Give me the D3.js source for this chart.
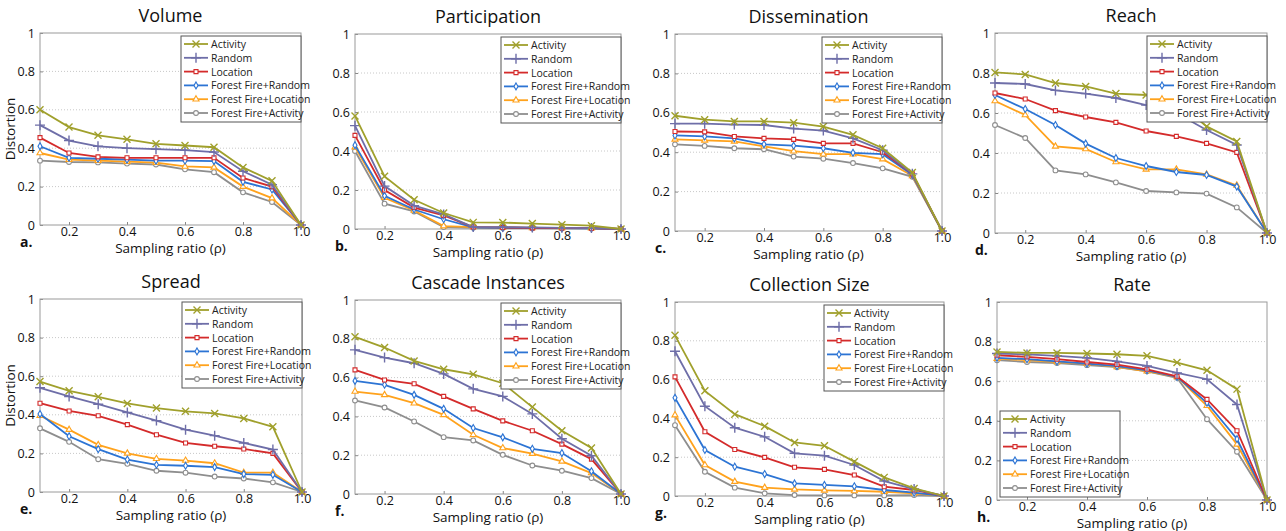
<!DOCTYPE html>
<html>
<head>
<meta charset="utf-8">
<script src="https://cdn.jsdelivr.net/npm/d3@7"></script>
<style>
  body { margin: 0; background: #fff; }
  text { font-family: "Open Sans", "Noto Sans", sans-serif; }
</style>
</head>
<body>
<div id="chart"></div>
<script>
// chart data
var panelTitles = ["Volume", "Participation", "Dissemination", "Reach",
                   "Spread", "Cascade Instances", "Collection Size", "Rate"];
var panelLetters = ["a.", "b.", "c.", "d.", "e.", "f.", "g.", "h."];
var seriesNames = ["Activity", "Random", "Location", "Forest Fire+Random",
                   "Forest Fire+Location", "Forest Fire+Activity"];
var samplingRatio = [0.1, 0.2, 0.3, 0.4, 0.5, 0.6, 0.7, 0.8, 0.9, 1.0];
var xTickValues = [0.2, 0.4, 0.6, 0.8, 1.0];
var xTickLabels = ["0.2", "0.4", "0.6", "0.8", "1.0"];
var yTickValues = [0, 0.2, 0.4, 0.6, 0.8, 1];
var yTickLabels = ["0", "0.2", "0.4", "0.6", "0.8", "1"];

// one array per panel, one row per series (same order as seriesNames)
var volume = [
  [0.60, 0.51, 0.467, 0.446, 0.423, 0.414, 0.405, 0.30, 0.23, 0],
  [0.52, 0.44, 0.41, 0.40, 0.395, 0.39, 0.38, 0.28, 0.21, 0],
  [0.455, 0.375, 0.355, 0.35, 0.35, 0.35, 0.35, 0.245, 0.20, 0],
  [0.41, 0.35, 0.345, 0.34, 0.335, 0.335, 0.333, 0.225, 0.185, 0],
  [0.375, 0.34, 0.335, 0.33, 0.325, 0.305, 0.30, 0.20, 0.14, 0],
  [0.335, 0.328, 0.326, 0.32, 0.315, 0.29, 0.275, 0.17, 0.12, 0]
];
var participation = [
  [0.58, 0.27, 0.15, 0.082, 0.034, 0.033, 0.028, 0.022, 0.017, 0],
  [0.53, 0.22, 0.12, 0.075, 0.01, 0.01, 0.008, 0.006, 0.005, 0],
  [0.48, 0.20, 0.11, 0.07, 0.01, 0.008, 0.006, 0.005, 0.004, 0],
  [0.43, 0.17, 0.10, 0.05, 0.008, 0.006, 0.005, 0.004, 0.003, 0],
  [0.42, 0.16, 0.095, 0.015, 0.01, 0.008, 0.006, 0.005, 0.004, 0],
  [0.40, 0.13, 0.09, 0.01, 0.006, 0.005, 0.004, 0.003, 0.002, 0]
];
var dissemination = [
  [0.585, 0.565, 0.556, 0.556, 0.55, 0.53, 0.488, 0.42, 0.297, 0],
  [0.545, 0.545, 0.54, 0.538, 0.52, 0.51, 0.47, 0.41, 0.29, 0],
  [0.505, 0.503, 0.48, 0.47, 0.465, 0.445, 0.445, 0.40, 0.29, 0],
  [0.485, 0.48, 0.47, 0.44, 0.433, 0.42, 0.397, 0.39, 0.285, 0],
  [0.465, 0.46, 0.455, 0.43, 0.405, 0.39, 0.39, 0.365, 0.28, 0],
  [0.44, 0.432, 0.42, 0.415, 0.378, 0.367, 0.345, 0.318, 0.275, 0]
];
var reach = [
  [0.803, 0.793, 0.75, 0.733, 0.697, 0.69, 0.66, 0.533, 0.458, 0],
  [0.75, 0.745, 0.713, 0.697, 0.675, 0.64, 0.60, 0.515, 0.44, 0],
  [0.70, 0.67, 0.612, 0.58, 0.553, 0.51, 0.483, 0.448, 0.403, 0],
  [0.69, 0.62, 0.54, 0.447, 0.375, 0.335, 0.305, 0.29, 0.232, 0],
  [0.66, 0.59, 0.433, 0.42, 0.355, 0.318, 0.318, 0.293, 0.238, 0],
  [0.54, 0.475, 0.313, 0.293, 0.253, 0.21, 0.203, 0.197, 0.128, 0]
];
var spread = [
  [0.572, 0.524, 0.493, 0.459, 0.435, 0.418, 0.407, 0.381, 0.338, 0],
  [0.54, 0.495, 0.455, 0.412, 0.37, 0.323, 0.292, 0.254, 0.22, 0],
  [0.46, 0.42, 0.395, 0.349, 0.297, 0.254, 0.237, 0.223, 0.20, 0],
  [0.404, 0.289, 0.222, 0.168, 0.141, 0.136, 0.129, 0.093, 0.089, 0],
  [0.395, 0.323, 0.244, 0.20, 0.172, 0.163, 0.149, 0.10, 0.10, 0],
  [0.33, 0.26, 0.17, 0.146, 0.11, 0.10, 0.08, 0.07, 0.05, 0]
];
var cascadeInstances = [
  [0.81, 0.755, 0.686, 0.643, 0.617, 0.571, 0.448, 0.326, 0.237, 0],
  [0.743, 0.703, 0.674, 0.619, 0.542, 0.503, 0.413, 0.285, 0.197, 0],
  [0.64, 0.588, 0.568, 0.503, 0.439, 0.377, 0.326, 0.257, 0.18, 0],
  [0.583, 0.563, 0.511, 0.439, 0.34, 0.292, 0.233, 0.211, 0.117, 0],
  [0.528, 0.511, 0.468, 0.408, 0.305, 0.237, 0.208, 0.168, 0.108, 0],
  [0.482, 0.446, 0.374, 0.293, 0.276, 0.202, 0.147, 0.12, 0.082, 0]
];
var collectionSize = [
  [0.828, 0.542, 0.422, 0.36, 0.276, 0.259, 0.177, 0.096, 0.039, 0],
  [0.746, 0.463, 0.352, 0.305, 0.22, 0.208, 0.16, 0.077, 0.036, 0],
  [0.614, 0.331, 0.24, 0.199, 0.148, 0.137, 0.108, 0.048, 0.031, 0],
  [0.506, 0.237, 0.151, 0.113, 0.065, 0.057, 0.05, 0.031, 0.017, 0],
  [0.417, 0.16, 0.074, 0.043, 0.034, 0.029, 0.026, 0.022, 0.014, 0],
  [0.365, 0.125, 0.043, 0.014, 0.005, 0.003, 0.003, 0.003, 0.005, 0]
];
var rate = [
  [0.748, 0.743, 0.743, 0.74, 0.736, 0.728, 0.694, 0.655, 0.56, 0],
  [0.74, 0.735, 0.728, 0.718, 0.70, 0.677, 0.642, 0.61, 0.482, 0],
  [0.731, 0.723, 0.711, 0.697, 0.684, 0.66, 0.625, 0.508, 0.35, 0],
  [0.718, 0.711, 0.70, 0.689, 0.676, 0.655, 0.622, 0.491, 0.308, 0],
  [0.714, 0.706, 0.697, 0.689, 0.672, 0.65, 0.622, 0.476, 0.281, 0],
  [0.706, 0.697, 0.692, 0.681, 0.671, 0.65, 0.617, 0.408, 0.244, 0]
];
var panelValues = [volume, participation, dissemination, reach,
                   spread, cascadeInstances, collectionSize, rate];

// layout of each plot box in pixels (left, right, top, bottom)
var boxes = [
  {l: 40,  r: 301,  t: 33,  b: 225},
  {l: 355, r: 621,  t: 34,  b: 229},
  {l: 675, r: 942,  t: 34,  b: 231},
  {l: 995, r: 1267, t: 33,  b: 233},
  {l: 40,  r: 302,  t: 299, b: 492},
  {l: 355, r: 621,  t: 300, b: 494},
  {l: 675, r: 944,  t: 302, b: 496},
  {l: 997, r: 1267, t: 302, b: 500}
];

var colors = ["#A0A02C", "#6E6EA8", "#D42B2B", "#2C74D4", "#FFA21C", "#8E8E8E"];
var markers = ["x", "plus", "square", "diamond", "triangle", "circle"];

var svg = d3.select("#chart")
  .append("svg")
    .attr("width", 1286)
    .attr("height", 531);

svg.append("rect").attr("width", 1286).attr("height", 531).attr("fill", "#fff");

function markerPath(kind) {
  if (kind == "x") return "M-3.5,-3.5L3.5,3.5M-3.5,3.5L3.5,-3.5";
  if (kind == "plus") return "M-5,0L5,0M0,-5L0,5";
  if (kind == "square") return d3.symbol().type(d3.symbolSquare).size(16)();
  if (kind == "diamond") return d3.symbol().type(d3.symbolDiamond).size(14)();
  if (kind == "triangle") return d3.symbol().type(d3.symbolTriangle).size(16)();
  return d3.symbol().type(d3.symbolCircle).size(18)();
}

function drawMarker(g, kind, color) {
  g.append("path")
    .attr("d", markerPath(kind))
    .attr("fill", (kind == "x" || kind == "plus") ? "none" : "#fff")
    .attr("stroke", color)
    .attr("stroke-width", (kind == "x" || kind == "plus") ? 1.4 : 1.1);
}

panelValues.forEach(function(values, p) {
  var box = boxes[p];
  var x = d3.scaleLinear().domain([0.1, 1.0]).range([box.l, box.r]);
  var y = d3.scaleLinear().domain([0, 1]).range([box.b, box.t]);
  var g = svg.append("g");

  // title
  g.append("text")
    .attr("x", (box.l + box.r) / 2)
    .attr("y", box.t - 11)
    .attr("text-anchor", "middle")
    .style("font-size", "18px")
    .style("fill", "#111")
    .text(panelTitles[p]);

  // dotted grid lines
  g.selectAll(".grid")
    .data([0.2, 0.4, 0.6, 0.8])
    .enter().append("line")
      .attr("x1", box.l).attr("x2", box.r)
      .attr("y1", d => y(d)).attr("y2", d => y(d))
      .attr("stroke", "#c8c8c8")
      .attr("stroke-dasharray", "1,2");

  // axes with inward ticks
  var xAxis = g.append("g")
    .attr("transform", "translate(0," + box.b + ")")
    .call(d3.axisBottom(x).tickValues(xTickValues).tickSize(-3).tickPadding(2)
      .tickFormat(function(d, i) { return xTickLabels[i]; }));
  var yAxis = g.append("g")
    .attr("transform", "translate(" + box.l + ",0)")
    .call(d3.axisLeft(y).tickValues(yTickValues).tickSize(-3).tickPadding(5)
      .tickFormat(function(d, i) { return yTickLabels[i]; }));
  [xAxis, yAxis].forEach(function(a) {
    a.select(".domain").remove();
    a.selectAll(".tick line").attr("stroke", "#888");
    a.selectAll("text")
      .style("font-size", "12.5px")
      .style("fill", "#111")
      .style("font-family", "'Open Sans', sans-serif");
  });

  // plot frame
  g.append("rect")
    .attr("x", box.l).attr("y", box.t)
    .attr("width", box.r - box.l).attr("height", box.b - box.t)
    .attr("fill", "none")
    .attr("stroke", "#9a9a9a");

  // series lines and markers
  var line = d3.line()
    .x(function(d, i) { return x(samplingRatio[i]); })
    .y(function(d) { return y(d); });

  for (var s = values.length - 1; s >= 0; s--) {
    g.append("path")
      .datum(values[s])
      .attr("d", line)
      .attr("fill", "none")
      .attr("stroke", colors[s])
      .attr("stroke-width", 1.8);
    var pts = g.selectAll(".pt" + s)
      .data(values[s])
      .enter().append("g")
        .attr("transform", function(d, i) { return "translate(" + x(samplingRatio[i]) + "," + y(d) + ")"; });
    var sIdx = s;
    pts.each(function() { drawMarker(d3.select(this), markers[sIdx], colors[sIdx]); });
  }

  // x axis title and panel letter
  g.append("text")
    .attr("x", (box.l + box.r) / 2)
    .attr("y", box.b + 28)
    .attr("text-anchor", "middle")
    .style("font-size", "13.5px")
    .style("fill", "#111")
    .text("Sampling ratio (\u03C1)");
  g.append("text")
    .attr("x", box.l - 20)
    .attr("y", box.b + 22)
    .style("font-size", "14px")
    .style("font-weight", "bold")
    .style("fill", "#111")
    .text(panelLetters[p]);

  if (p == 0 || p == 4) {
    g.append("text")
      .attr("transform", "translate(" + (box.l - 25) + "," + ((box.t + box.b) / 2) + ") rotate(-90)")
      .attr("text-anchor", "middle")
      .style("font-size", "13.5px")
      .style("fill", "#111")
      .text("Distortion");
  }

  // legend (bottom-left for Rate, top-right elsewhere)
  var lw = 120, lh = 86;
  var lx = p == 7 ? box.l + 3 : box.r - lw;
  var ly = p == 7 ? box.b - lh - 3 : box.t + 3;
  var leg = g.append("g").attr("transform", "translate(" + lx + "," + ly + ")");
  leg.append("rect")
    .attr("width", lw).attr("height", lh)
    .attr("fill", "#fff")
    .attr("stroke", "#555");
  seriesNames.forEach(function(name, i) {
    var row = leg.append("g").attr("transform", "translate(0," + (8 + i * 13.8) + ")");
    row.append("line")
      .attr("x1", 3).attr("x2", 27)
      .attr("stroke", colors[i])
      .attr("stroke-width", 1.8);
    drawMarker(row.append("g").attr("transform", "translate(15,0)"), markers[i], colors[i]);
    row.append("text")
      .attr("x", 30)
      .attr("y", 4)
      .style("font-size", "10.5px")
      .style("fill", "#222")
      .text(name);
  });
});
</script>
</body>
</html>
